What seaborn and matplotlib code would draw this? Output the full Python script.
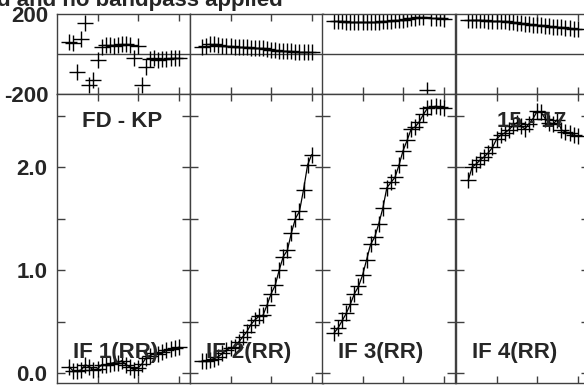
import matplotlib
matplotlib.use("Agg")
import matplotlib.pyplot as plt
import numpy as np
import pandas as pd
import seaborn as sns

# channels shown in every IF panel
channels = list(range(3, 31))

# amplitude per IF (Jy)
amp_if1 = [0.06, 0.02, 0.02, 0.03, 0.08, 0.06, 0.03, 0.04, 0.08, 0.08, 0.09, 0.10, 0.10, 0.12,
           0.08, 0.06, 0.03, 0.05, 0.09, 0.15, 0.17, 0.19, 0.18, 0.20, 0.22, 0.23, 0.24, 0.25]
amp_if2 = [0.12, 0.12, 0.13, 0.14, 0.16, 0.19, 0.22, 0.245, 0.25, 0.30, 0.35, 0.40, 0.47, 0.515,
           0.55, 0.56, 0.66, 0.77, 0.85, 1.00, 1.13, 1.19, 1.36, 1.50, 1.57, 1.78, 2.02, 2.12]
amp_if3 = [0.39, 0.44, 0.51, 0.58, 0.67, 0.77, 0.84, 0.95, 1.10, 1.25, 1.32, 1.45, 1.60, 1.80,
           1.85, 1.90, 2.02, 2.16, 2.26, 2.37, 2.39, 2.44, 2.51, 2.57, 2.58, 2.59, 2.58, 2.57]
amp_if4 = [1.87, 2.00, 2.03, 2.07, 2.10, 2.14, 2.19, 2.27, 2.31, 2.33, 2.36, 2.40, 2.43, 2.40,
           2.37, 2.42, 2.47, 2.54, 2.53, 2.47, 2.43, 2.42, 2.46, 2.36, 2.34, 2.33, 2.31, 2.30]

# phase per IF (degrees)
ph_if1 = [62, 55, -88, 73, 153, -155, -130, -30, 35, 45, 45, 42, 45, 48,
          50, 45, -22, 38, -155, -63, -27, -22, -30, -27, -25, -22, -20, -18]
ph_if2 = [37, 42, 48, 48, 45, 42, 40, 38, 36, 35, 34, 33, 32, 31,
          30, 28, 25, 20, 18, 16, 15, 14, 13, 12, 11, 10, 9, 8]
ph_if3 = [167, 165, 164, 162, 161, 160, 159, 158, 158, 159, 160, 162, 164, 165,
          167, 168, 170, 172, 176, 180, 182, 183, 183, -178, 180, 178, 178, 175]
ph_if4 = [170, 170, 169, 168, 168, 167, 167, 166, 165, 163, 161, 158, 156, 153,
          151, 149, 147, 145, 143, 141, 139, 137, 135, 133, 131, 129, 127, 125]

if_labels = ["IF 1(RR)", "IF 2(RR)", "IF 3(RR)", "IF 4(RR)"]
baseline = "FD - KP"
scan = "15 - 17"
title = "d and no bandpass applied"

amps = [amp_if1, amp_if2, amp_if3, amp_if4]
phases = [ph_if1, ph_if2, ph_if3, ph_if4]
frames = []
for lab, a, p in zip(if_labels, amps, phases):
    frames.append(pd.DataFrame({"chan": channels, "amp": a, "phase": p, "IF": lab}))
df = pd.concat(frames, ignore_index=True)

sns.set_style("white")
plt.rcParams["font.family"] = ["Liberation Sans", "DejaVu Sans"]
plt.rcParams["font.weight"] = "bold"
plt.rcParams["axes.unicode_minus"] = False
fs = 16

W, H = 584, 386
fig = plt.figure(figsize=(W / 100, H / 100), dpi=100)
lefts = [57, 190, 322, 456]
pw = 133
edge = "#404040"

for i, lab in enumerate(if_labels):
    sub = df[df["IF"] == lab]
    l = lefts[i] / W
    ax_ph = fig.add_axes([l, (H - 94) / H, pw / W, 80 / H])
    ax_amp = fig.add_axes([l, (H - 383) / H, pw / W, 289 / H])

    # phase panel: markers only
    sns.scatterplot(data=sub, x="chan", y="phase", marker="+", s=120, color="black",
                    linewidth=1.0, ax=ax_ph, legend=False)
    ax_ph.axhline(0, color=edge, lw=1.0, zorder=0)
    ax_ph.set_ylim(-200, 200)
    ax_ph.set_xlim(0, 32.8)
    ax_ph.set_yticks([-200, 200])
    ax_ph.set_xticks([10, 20, 30])
    ax_ph.tick_params(axis="x", direction="in", top=True, bottom=True, length=5,
                      width=1, color=edge, labelbottom=False)
    ax_ph.tick_params(axis="y", length=0, pad=6, labelsize=fs)
    if i > 0:
        ax_ph.tick_params(axis="y", labelleft=False)

    # amplitude panel: line + markers
    sns.lineplot(data=sub, x="chan", y="amp", marker="+", markersize=11, markeredgewidth=1.0,
                 markeredgecolor="black", color="black", linewidth=0.9, estimator=None,
                 sort=False, ax=ax_amp)
    ax_amp.set_ylim(-0.097, 2.709)
    ax_amp.set_xlim(0, 32.8)
    ax_amp.set_yticks([0, 1, 2])
    ax_amp.set_yticklabels(["0.0", "1.0", "2.0"])
    ax_amp.set_yticks([0.5, 1.5, 2.5], minor=True)
    ax_amp.set_xticks([10, 20, 30])
    ax_amp.tick_params(axis="x", direction="in", top=True, bottom=True, length=5,
                       width=1, color=edge, labelbottom=False)
    ax_amp.tick_params(axis="y", which="both", direction="in", left=True, right=True,
                       length=6, width=1, color=edge, pad=7, labelsize=fs)
    if i > 0:
        ax_amp.tick_params(axis="y", labelleft=False)

    for ax in (ax_ph, ax_amp):
        ax.set_xlabel("")
        ax.set_ylabel("")
        for s in ax.spines.values():
            s.set_color(edge)
            s.set_linewidth(1.0)
        for t in ax.get_yticklabels():
            t.set_fontweight("bold")

    ax_amp.text(0.44, 0.104, lab, transform=ax_amp.transAxes, ha="center", va="center",
                fontsize=fs, fontweight="bold")
    if i == 0:
        ax_amp.text(0.49, 0.905, baseline, transform=ax_amp.transAxes, ha="center",
                    va="center", fontsize=fs, fontweight="bold")
    if i == 3:
        ax_amp.text(0.57, 0.905, scan, transform=ax_amp.transAxes, ha="center",
                    va="center", fontsize=fs, fontweight="bold")

fig.text(-3 / W, (H - 6) / H, title, ha="left", va="baseline", fontsize=fs,
         fontweight="bold")

fig.savefig("out.png", dpi=100)
